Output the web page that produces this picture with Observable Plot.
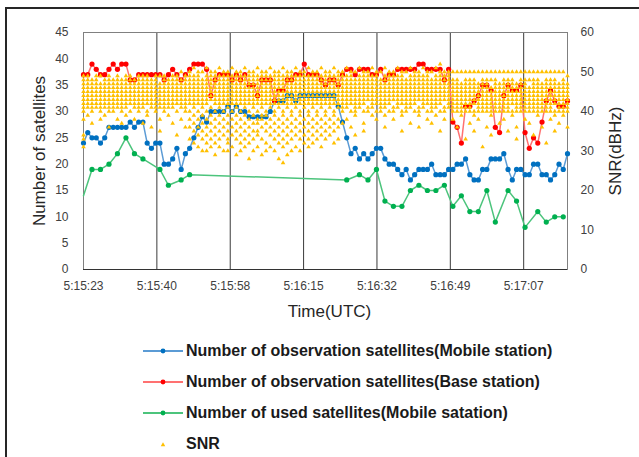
<!DOCTYPE html>
<html>
<head>
<meta charset="utf-8">
<script src="https://cdn.jsdelivr.net/npm/d3@7"></script>
<script src="https://cdn.jsdelivr.net/npm/@observablehq/plot@0.6"></script>
<style>
  html, body { margin: 0; padding: 0; background: #fff; }
  #wrap { position: relative; width: 639px; height: 457px; overflow: hidden; background: #fff; font-family: "Liberation Sans", Arial, sans-serif; }
  #border { position: absolute; left: 5px; top: 7px; width: 700px; height: 520px; border: 2.5px solid #262626; box-sizing: border-box; pointer-events: none; }
  #legend { position: absolute; left: 143px; top: 335px; font: bold 16px "Liberation Sans", Arial, sans-serif; color: #1a1a1a; }
  .row { display: flex; align-items: center; height: 31px; }
  .row svg { margin-right: 3px; }
</style>
</head>
<body>
<div id="wrap"><div id="chart"></div><div id="legend"></div><div id="border"></div></div>
<script>
// x: seconds since 5:15:23 (one sample per second)
const tickSec = [0, 17.28, 34.56, 51.84, 69.12, 86.4, 103.68];
const tickLabels = ["5:15:23", "5:15:40", "5:15:58", "5:16:15", "5:16:32", "5:16:49", "5:17:07"];
const leftTicks = [0, 5, 10, 15, 20, 25, 30, 35, 40, 45];
const snrTicks = [0, 10, 20, 30, 40, 50, 60];

// Number of observation satellites (Mobile station)
const blueObs = [24,26,25,25,24,25,27,27,27,27, 27,28,27,28,28,24,23,24,24,20,
  20,21,23,19,22,23,25,27,29,28, 30,30,30,30,31,30,31,30,30,29,
  29,29,29,29,30,32,32,32,33,33, 32,33,33,33,33,33,33,33,33,33,
  31,28,25,22,23,21,22,21,22,23, 23,21,20,20,19,18,19,17,18,19,
  19,19,20,18,18,18,19,19,20,20, 21,18,17,17,19,19,21,21,21,22,
  19,17,19,19,18,18,20,20,18,18, 17,18,20,19,22];

// Number of observation satellites (Base station)
const redObs = [37,37,39,38,37,37,38,39,38,39, 39,36,36,37,37,37,37,37,37,36,
  37,38,37,36,37,38,39,39,39,38, 33,36,37,37,37,36,37,36,37,35,
  35,33,36,36,36,32,34,34,36,36, 37,37,39,37,37,37,36,35,36,36,
  35,37,38,38,37,38,38,38,37,37, 38,36,37,37,38,38,38,38,38,39,
  39,38,38,38,38,36,38,28,27,24, 31,31,32,33,35,35,34,27,26,33,
  35,34,34,35,26,23,25,24,28,32, 34,32,31,31,32];

// Number of used satellites (Mobile station) - sparse samples
const greenT = [0,2,4,6,8,10,12,14,18,20,23,25,62,65,67,69,71,73,75,77,79,81,83,85,87,89,91,93,95,97,100,102,104,107,109,111,113];
const greenV = [14,19,19,20,22,25,22,21,19,16,17,18,17,18,17,19,13,12,12,15,16,15,15,16,12,14,11,11,15,9,15,13,8,11,9,10,10];

// SNR (dBHz) of all tracked satellites, one string per second
const snrCols = [
"49 48 47 46 45 44 43 42 41 40 38 34 33 31",
"49 48 47 46 45 44 43 42 41 39",
"48 47 46 45 44 43 42 41 40 37",
"49 48 47 46 45 44 43 42 41",
"49 47 46 45 44 43 42 41 40 38",
"48 47 46 45 44 43 42 41 39",
"49 48 47 46 45 44 43 42 41 40 36",
"48 47 46 45 44 43 42 41 40",
"49 48 47 46 45 44 43 42 41 38",
"48 47 46 45 44 43 42 41 40 37",
"49 48 47 46 45 44 43 42 41 39",
"49 48 47 46 45 44 43 42 40",
"48 47 46 45 44 43 42 41 38",
"49 48 47 46 45 44 43 42 41 40",
"49 48 47 46 45 44 43 42 41 37",
"49 48 47 46 45 44 43 42 40 39",
"48 47 46 45 44 43 42 41 36",
"49 48 47 46 45 44 43 42 41 40",
"49 47 46 45 44 43 42 41 38 35",
"49 48 47 46 45 44 43 42 41 40",
"48 47 46 45 44 43 42 41 39",
"49 48 47 46 45 44 43 42 41 37",
"49 48 47 46 45 44 43 42 40 34",
"50 48 47 46 45 44 43 42 41 38",
"49 48 47 46 45 44 43 42 41 40 36",
"50 49 48 47 46 45 44 43 42 40 38 36 33",
"51 49 48 47 46 45 44 43 42 41 39 37 35 32",
"50 49 48 47 46 45 44 43 42 40 38 36 34 31",
"50 48 47 46 45 44 43 42 41 39 37 35 33 30",
"51 49 48 47 46 45 44 43 42 40 38 36 34 32 30",
"50 49 48 47 46 45 44 43 41 39 37 35 33 31",
"50 49 48 47 46 45 44 43 42 40 38 36 34 32 29",
"51 49 48 47 46 45 44 43 42 41 39 37 35 33 31",
"50 49 48 47 46 45 44 43 42 40 38 36 34 30",
"50 49 48 47 46 45 44 43 42 41 39 37 35 33 32 30",
"51 49 48 47 46 45 44 43 42 40 38 36 34 31",
"50 49 48 47 46 45 44 43 42 41 39 37 35 33 29",
"50 49 48 47 46 45 44 43 42 40 38 36 34 32 30",
"51 49 48 47 46 45 44 43 42 41 39 37 35 33 31",
"50 49 48 47 46 45 44 43 42 40 38 36 34 32 28",
"50 49 48 47 46 45 44 43 42 41 39 37 35 33 30",
"51 49 48 47 46 45 44 43 42 40 38 37 35 34 31",
"50 49 48 47 46 45 44 43 42 41 39 38 36 33 29",
"50 49 48 47 46 45 44 43 42 40 39 37 35 32 30",
"51 49 48 47 46 45 44 43 42 41 38 36 34 31",
"50 49 48 47 46 45 44 43 42 40 39 37 35 33 30",
"50 49 48 47 46 45 44 43 42 41 38 36 34 32 28",
"51 49 48 47 46 45 44 43 42 40 39 37 35 33 31 27",
"50 49 48 47 46 45 44 43 42 41 38 36 34 32 29",
"50 49 48 47 46 45 44 43 42 40 39 37 35 33 30",
"51 49 48 47 46 45 44 43 42 41 38 36 34 31",
"50 49 48 47 46 45 44 43 42 40 39 37 35 33 30",
"50 49 48 47 46 45 44 43 42 41 38 36 34 32",
"51 49 48 47 46 45 44 43 42 40 39 37 35 33 31",
"50 49 48 47 46 45 44 43 42 41 38 36 34 32",
"50 49 48 47 46 45 44 43 42 40 39 37 35 33",
"51 49 48 47 46 45 44 43 42 41 38 36 34 31",
"50 49 48 47 46 45 44 43 42 40 39 37 35 33",
"50 49 48 47 46 45 44 43 42 41 38 36 34",
"51 49 48 47 46 45 44 43 42 40 39 37 35 32",
"50 49 48 47 46 45 44 43 42 41 38 36 33",
"50 49 48 47 46 45 44 43 42 41 40 37",
"51 49 48 47 46 45 44 43 42 41 38",
"50 49 48 47 46 45 44 43 42 40 36",
"50 48 47 46 45 44 43 42 41 40 39 34",
"51 49 48 47 46 45 44 43 42 41",
"50 49 48 47 46 45 44 43 42 40 37 35",
"50 49 48 47 46 45 44 43 41 40",
"51 49 48 47 46 45 44 43 42 41 39",
"50 49 48 47 46 45 44 43 42 40 38",
"50 48 47 46 45 44 43 42 41 40",
"51 49 48 47 46 45 44 43 42 41 39 36",
"50 49 48 47 46 45 44 43 42 40",
"50 49 48 47 46 45 44 43 41 40 38",
"51 49 48 47 46 45 44 43 42 41",
"50 49 48 47 46 45 44 43 42 40 39 35",
"50 48 47 46 45 44 43 42 41 40",
"51 49 48 47 46 45 44 43 42 41 37",
"50 49 48 47 46 45 44 43 42 40",
"50 49 48 47 46 45 44 43 41 40 39 36",
"51 49 48 47 46 45 44 43 42 41",
"50 49 48 47 46 45 44 43 42 40 38",
"50 48 47 46 45 44 43 42 41 40 37",
"51 49 48 47 46 45 44 43 42 41 39",
"52 50 49 48 47 46 45 44 43 42 40 35",
"50 49 48 47 46 45 44 43 41 40 38",
"50 49 48 47 46 45 44 43 42 41",
"50 48 47 46 45 44 43 42 41 40 38",
"50 48 47 46 45 44 43 42 41 40 36",
"50 47 46 45 44 43 42 41 40 39",
"50 48 47 46 45 44 43 42 41 40 33",
"50 48 47 46 45 44 43 42 41 40 37",
"50 48 47 46 45 44 43 42 40 39 35",
"50 47 46 45 44 43 42 41 40 38",
"50 48 47 46 45 44 43 42 41 40 31",
"50 48 47 46 45 44 43 42 41 40 36",
"50 48 46 45 44 43 42 41 40 39 34",
"50 48 47 46 45 44 43 42 41 40",
"50 47 46 45 44 43 42 41 40 37",
"50 48 47 46 45 44 43 42 41 40 38",
"50 48 47 46 45 44 43 42 41 40 35",
"50 48 47 46 45 44 43 42 40 39",
"50 47 46 45 44 43 42 41 40 36 33",
"50 48 47 46 45 44 43 42 41 40",
"50 48 47 46 45 44 43 42 41 40 38",
"50 48 46 45 44 43 42 41 40 37",
"50 48 47 46 45 44 43 42 41 40 34",
"50 48 47 46 45 44 43 42 41 40 39",
"50 47 46 45 44 43 42 41 40 36",
"50 48 47 46 45 44 43 42 41 40 32",
"50 48 47 46 45 44 43 42 41 40 38",
"50 48 47 46 45 44 43 42 40 39 35",
"50 47 46 45 44 43 42 41 40 37",
"50 48 47 46 45 44 43 42 41 40 39",
"49 47 46 45 44 43 42 41 40 36"
];

const legendNames = [
  "Number of observation satellites(Mobile station)",
  "Number of observation satellites(Base station)",
  "Number of used satellites(Mobile satation)",
  "SNR"
];
const lineColors = ["#5B9BD5", "#FF7171", "#4CC47C", null];
const dotColors = ["#0070C0", "#FF0000", "#00B050", "#FFC000"];

// ---- build tables ----
const SNR_TO_LEFT = 45 / 60;
const blueData = blueObs.map((v, i) => ({t: i, v}));
const redData = redObs.map((v, i) => ({t: i, v}));
const greenData = greenT.map((t, i) => ({t, v: greenV[i]}));
const snrData = snrCols.flatMap((s, i) => s.split(" ").map(Number).map(v => ({t: i, v})));
const tMax = blueObs.length - 1;

const chart = Plot.plot({
  width: 639,
  height: 329,
  marginLeft: 83,
  marginRight: 72,
  marginTop: 32,
  marginBottom: 60,
  style: {fontFamily: "'Liberation Sans', Arial, sans-serif", background: "#fff", overflow: "visible"},
  x: {domain: [0, tMax], axis: null},
  y: {domain: [0, 45], axis: null},
  marks: [
    Plot.ruleX(tickSec, {stroke: "#3a3a3a", strokeWidth: 1}),
    Plot.frame({stroke: "#808080"}),
    Plot.ruleY([0], {stroke: "#333"}),
    Plot.axisY(leftTicks, {anchor: "left", tickSize: 0, tickPadding: 15, fontSize: 12, fill: "#404040", label: null}),
    Plot.axisY(snrTicks.map(v => v * SNR_TO_LEFT), {anchor: "right", tickSize: 0, tickPadding: 13, fontSize: 12, fill: "#404040", label: null,
      tickFormat: d => String(Math.round(d / SNR_TO_LEFT))}),
    Plot.axisX(tickSec, {anchor: "bottom", tickSize: 0, tickPadding: 12, fontSize: 12, fill: "#404040", label: null,
      tickFormat: d => tickLabels[tickSec.indexOf(d)]}),
    Plot.line(greenData, {x: "t", y: "v", stroke: lineColors[2], strokeWidth: 1.5}),
    Plot.dot(greenData.filter(d => d.t > 0), {x: "t", y: "v", r: 2.6, fill: dotColors[2]}),
    Plot.line(blueData, {x: "t", y: "v", stroke: lineColors[0], strokeWidth: 1.5}),
    Plot.dot(blueData, {x: "t", y: "v", r: 2.6, fill: dotColors[0]}),
    Plot.line(redData, {x: "t", y: "v", stroke: lineColors[1], strokeWidth: 1.5}),
    Plot.dot(redData, {x: "t", y: "v", r: 2.6, fill: dotColors[1]}),
    Plot.dot(snrData, {x: "t", y: d => d.v * SNR_TO_LEFT, symbol: "triangle", r: 1.7, fill: dotColors[3], stroke: "none"}),
    Plot.text(["Number of satellites"], {text: d => d, frameAnchor: "left", textAnchor: "middle", dx: -44, rotate: -90, fontSize: 17, fill: "#262626"}),
    Plot.text(["SNR(dBHz)"], {text: d => d, frameAnchor: "right", textAnchor: "middle", dx: 48, rotate: -90, fontSize: 17, fill: "#262626"}),
    Plot.text(["Time(UTC)"], {text: d => d, frameAnchor: "bottom", dy: 47, dx: 4, fontSize: 17, fill: "#262626"})
  ]
});
document.getElementById("chart").appendChild(chart);

// ---- legend ----
const legend = document.getElementById("legend");
legendNames.forEach((name, i) => {
  const row = document.createElement("div");
  row.className = "row";
  const ns = "http://www.w3.org/2000/svg";
  const svg = document.createElementNS(ns, "svg");
  svg.setAttribute("width", 40); svg.setAttribute("height", 12);
  if (lineColors[i]) {
    const ln = document.createElementNS(ns, "line");
    ln.setAttribute("x1", 0); ln.setAttribute("x2", 40); ln.setAttribute("y1", 6); ln.setAttribute("y2", 6);
    ln.setAttribute("stroke", lineColors[i]); ln.setAttribute("stroke-width", 2);
    svg.appendChild(ln);
    const c = document.createElementNS(ns, "circle");
    c.setAttribute("cx", 20); c.setAttribute("cy", 6); c.setAttribute("r", 2.4);
    c.setAttribute("fill", dotColors[i]);
    svg.appendChild(c);
  } else {
    const p = document.createElementNS(ns, "path");
    p.setAttribute("d", d3.symbol(d3.symbolTriangle, 9)());
    p.setAttribute("transform", "translate(20,7)");
    p.setAttribute("fill", dotColors[i]);
    svg.appendChild(p);
  }
  row.appendChild(svg);
  const span = document.createElement("span");
  span.textContent = name;
  row.appendChild(span);
  legend.appendChild(row);
});
</script>
</body>
</html>
